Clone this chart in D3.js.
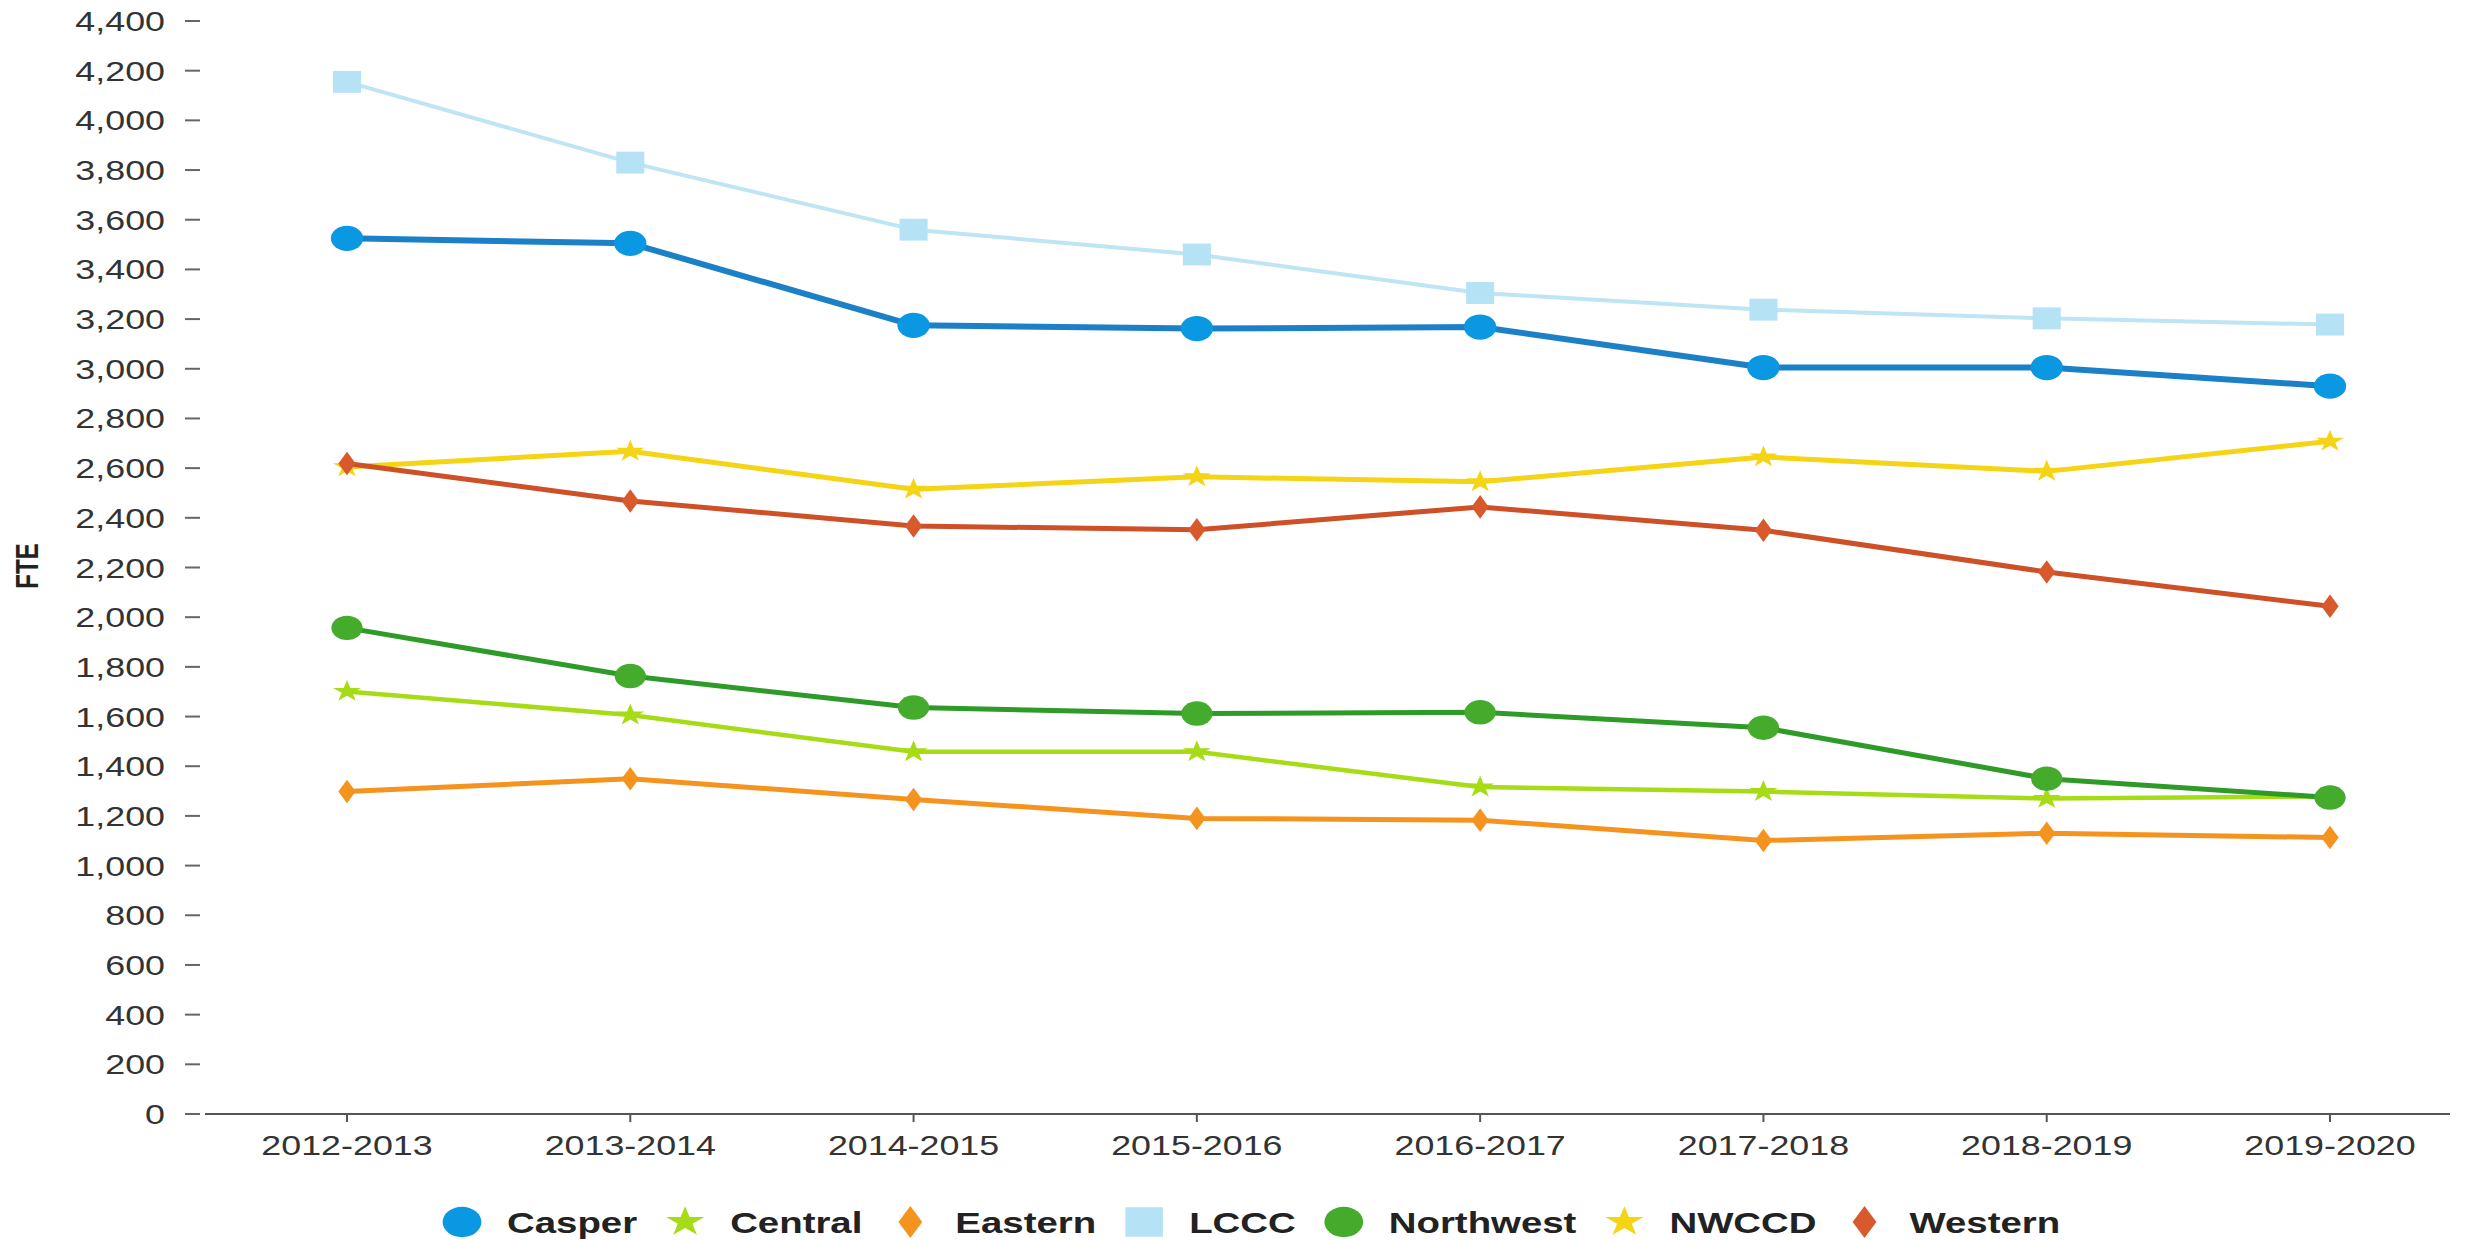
<!DOCTYPE html>
<html>
<head>
<meta charset="utf-8">
<script src="https://cdn.jsdelivr.net/npm/d3@7"></script>
<style>
    body { margin: 0; background: #fff; }
    svg { display: block; font-family: "Liberation Sans", Arial, sans-serif; }
</style>
</head>
<body>
<div id="chart"></div>
<script>
// FTE by college, 2012-2013 to 2019-2020
const years = ['2012-2013', '2013-2014', '2014-2015', '2015-2016', '2016-2017', '2017-2018', '2018-2019', '2019-2020'];
const colleges = ['Casper', 'Central', 'Eastern', 'LCCC', 'Northwest', 'NWCCD', 'Western'];

const casper    = [3525, 3505, 3175, 3162, 3168, 3005, 3005, 2930];
const central   = [1701, 1606, 1458, 1458, 1316, 1298, 1270, 1278];
const eastern   = [1298, 1350, 1266, 1190, 1183, 1101, 1130, 1113];
const lccc      = [4155, 3830, 3560, 3460, 3305, 3238, 3203, 3178];
const northwest = [1957, 1763, 1636, 1612, 1617, 1555, 1350, 1274];
const nwccd     = [2605, 2668, 2515, 2565, 2545, 2645, 2587, 2708];
const western   = [2619, 2468, 2367, 2352, 2444, 2350, 2182, 2044];

const yTicks = d3.range(0, 4401, 200);

// look of each series
const styles = {
    'Casper':    {line: '#1b80c6', fill: '#0a98e2', width: 6,   shape: d3.symbolCircle,  size: 500, legendSize: 720},
    'Central':   {line: '#a6dc16', fill: '#a6dc16', width: 4.5, shape: d3.symbolStar,    size: 150, legendSize: 280},
    'Eastern':   {line: '#f5931f', fill: '#f5931f', width: 5,   shape: d3.symbolDiamond, size: 160, legendSize: 300},
    'LCCC':      {line: '#bde5f3', fill: '#b5e2f4', width: 4,   shape: d3.symbolSquare,  size: 480, legendSize: 860},
    'Northwest': {line: '#2e9a28', fill: '#44ab2c', width: 5,   shape: d3.symbolCircle,  size: 470, legendSize: 720},
    'NWCCD':     {line: '#f4d414', fill: '#f4d414', width: 5,   shape: d3.symbolStar,    size: 150, legendSize: 280},
    'Western':   {line: '#cd5026', fill: '#d85a2c', width: 5,   shape: d3.symbolDiamond, size: 160, legendSize: 300}
};

const seriesValues = [casper, central, eastern, lccc, northwest, nwccd, western];
const series = colleges.map((name, i) => {
    return {name: name, values: seriesValues[i].map((v, j) => ({year: years[j], value: v}))};
});

// the picture is a bit wider than tall, everything is squeezed sideways by this much
const stretch = 1.28;

const width = 2483;
const height = 1240;

const svg = d3.select('#chart')
    .append('svg')
    .attr('width', width)
    .attr('height', height);

const x = d3.scalePoint()
    .domain(years)
    .range([347, 2330]);

const y = d3.scaleLinear()
    .domain([0, 4400])
    .range([1114, 21]);

// y axis: just ticks + labels, no line
const yAxis = svg.append('g').attr('class', 'y-axis');
yAxis.selectAll('line')
    .data(yTicks)
    .enter()
    .append('line')
    .attr('x1', 185)
    .attr('x2', 200)
    .attr('y1', d => y(d))
    .attr('y2', d => y(d))
    .style('stroke', '#666')
    .style('stroke-width', 2);

yAxis.selectAll('text')
    .data(yTicks)
    .enter()
    .append('text')
    .attr('transform', d => 'translate(165,' + (y(d) + 10) + ') scale(' + stretch + ',1)')
    .attr('text-anchor', 'end')
    .style('font-size', '28px')
    .style('fill', '#333')
    .text(d => d3.format(',')(d));

// y title
svg.append('text')
    .attr('transform', 'translate(38,566) scale(' + stretch + ',1) rotate(-90)')
    .attr('text-anchor', 'middle')
    .style('font-size', '24px')
    .style('font-weight', 'bold')
    .style('fill', '#222')
    .text('FTE');

// x axis
const xAxis = svg.append('g').attr('class', 'x-axis');
xAxis.append('line')
    .attr('x1', 205)
    .attr('x2', 2450)
    .attr('y1', y(0))
    .attr('y2', y(0))
    .style('stroke', '#555')
    .style('stroke-width', 2);

xAxis.selectAll('.tick')
    .data(years)
    .enter()
    .append('line')
    .attr('class', 'tick')
    .attr('x1', d => x(d))
    .attr('x2', d => x(d))
    .attr('y1', y(0))
    .attr('y2', y(0) + 8)
    .style('stroke', '#555')
    .style('stroke-width', 2);

xAxis.selectAll('text')
    .data(years)
    .enter()
    .append('text')
    .attr('transform', d => 'translate(' + x(d) + ',1155) scale(' + stretch + ',1)')
    .attr('text-anchor', 'middle')
    .style('font-size', '28px')
    .style('fill', '#333')
    .text(d => d);

// lines and markers
const line = d3.line()
    .x(d => x(d.year))
    .y(d => y(d.value));

const groups = svg.selectAll('.series')
    .data(series)
    .enter()
    .append('g')
    .attr('class', 'series');

groups.append('path')
    .attr('d', d => line(d.values))
    .style('fill', 'none')
    .style('stroke', d => styles[d.name].line)
    .style('stroke-width', d => styles[d.name].width)
    .style('stroke-linejoin', 'round');

groups.each(function(s) {
    let st = styles[s.name];
    d3.select(this).selectAll('.marker')
        .data(s.values)
        .enter()
        .append('path')
        .attr('class', 'marker')
        .attr('d', d3.symbol().type(st.shape).size(st.size))
        .attr('transform', d => 'translate(' + x(d.year) + ',' + y(d.value) + ') scale(' + stretch + ',1)')
        .style('fill', st.fill);
});

// legend, laid out left to right
const legend = svg.append('g').attr('class', 'legend');
let lx = 462;
const ly = 1222;
colleges.forEach((name) => {
    let st = styles[name];
    legend.append('path')
        .attr('d', d3.symbol().type(st.shape).size(st.legendSize))
        .attr('transform', 'translate(' + lx + ',' + ly + ') scale(' + stretch + ',1)')
        .style('fill', st.fill);

    let label = legend.append('text')
        .attr('transform', 'translate(' + (lx + 45) + ',' + (ly + 11) + ') scale(' + stretch + ',1)')
        .style('font-size', '30px')
        .style('font-weight', 'bold')
        .style('fill', '#222')
        .text(name);

    let w = label.node().getComputedTextLength() * stretch;
    lx = lx + 45 + w + 48;
});
</script>
</body>
</html>
